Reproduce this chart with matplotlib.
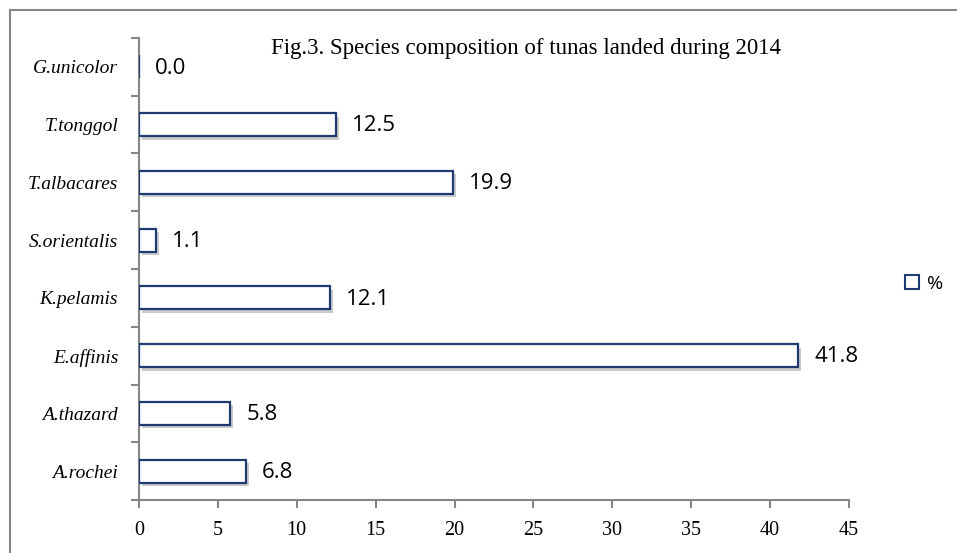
import matplotlib
matplotlib.use("Agg")
import matplotlib.pyplot as plt
import matplotlib.patheffects as pe
from matplotlib.patches import Patch
from matplotlib.lines import Line2D

species = ["A.rochei", "A.thazard", "E.affinis", "K.pelamis",
           "S.orientalis", "T.albacares", "T.tonggol", "G.unicolor"]
percent = [6.8, 5.8, 41.8, 12.1, 1.1, 19.9, 12.5, 0.0]
xticks = [0, 5, 10, 15, 20, 25, 30, 35, 40, 45]

navy = "#1f3a70"
grey = "#868686"

fig = plt.figure(figsize=(9.57, 5.53), dpi=100)
ax = fig.add_axes([0.1452, 0.0958, 0.7419, 0.8355])

pos = list(range(len(species)))
bars = ax.barh(pos, percent, height=0.4, color="white", edgecolor=navy,
               linewidth=1.6, zorder=3)
for b in bars:
    b.set_path_effects([pe.SimplePatchShadow(offset=(2, -2.5), shadow_rgbFace="#a8a8a8", alpha=0.6),
                        pe.Normal()])

for p, v in zip(pos, percent):
    ax.text(v + 1.0, p - 0.02, f"{v:.1f}", va="center", ha="left",
            fontsize=16, family="Open Sans", color="black")

ax.set_xlim(0, 45)
ax.set_ylim(-0.5, len(species) - 0.5)
ax.set_xticks(xticks)
ax.set_xticklabels([str(t) for t in xticks], family="Liberation Serif", fontsize=14.5)
ax.set_yticks(pos)
ax.set_yticklabels(species, family="Liberation Serif", style="italic", fontsize=14)
ax.tick_params(axis="y", length=0, pad=15)
ax.tick_params(axis="x", length=6, width=1.5, color=grey, pad=9)

# y tick marks between categories
ax.set_yticks([p - 0.5 for p in pos] + [len(species) - 0.5], minor=True)
ax.tick_params(axis="y", which="minor", length=6, width=1.5, color=grey)

for s in ["top", "right"]:
    ax.spines[s].set_visible(False)
for s in ["left", "bottom"]:
    ax.spines[s].set_color(grey)
    ax.spines[s].set_linewidth(1.5)

fig.text(0.55, 0.913, "Fig.3. Species composition of tunas landed during 2014",
         ha="center", va="center", family="Liberation Serif", fontsize=16.5)

handle = Patch(facecolor="white", edgecolor=navy, linewidth=1.5)
fig.legend([handle], ["%"], loc="center left", bbox_to_anchor=(0.935, 0.487),
           frameon=False, handlelength=0.75, handleheight=0.75, handletextpad=0.4,
           borderpad=0, prop={"family": "Open Sans", "size": 14})

# chart area border (top and left edges visible)
fig.add_artist(Line2D([0.0105, 1.0], [0.982, 0.982], color=grey, lw=1.5))
fig.add_artist(Line2D([0.0105, 0.0105], [0.0, 0.982], color=grey, lw=1.5))

fig.savefig("out.png", dpi=100)
